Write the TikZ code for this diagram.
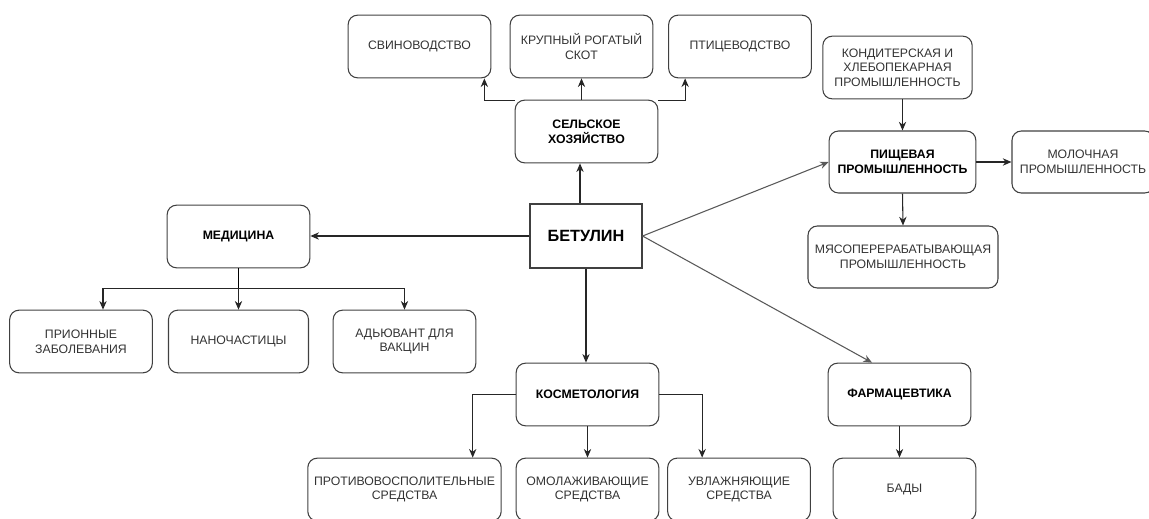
\documentclass[tikz,border=0pt]{standalone}
\usepackage{fontspec}
\setmainfont{Liberation Sans}
\usetikzlibrary{arrows.meta,positioning}
\tikzset{
    box/.style={draw=black!75, line width=0.8pt, rounded corners=7pt,
        minimum width=107pt, minimum height=47pt, inner sep=1pt,
        align=center, text=black!80, font=\fontsize{9.2}{11}\selectfont},
    mainbox/.style={box, text=black, font=\fontsize{9.2}{11}\selectfont\bfseries},
    rootbox/.style={box, rounded corners=0pt, text=black,
        minimum width=84pt, minimum height=48pt,
        font=\fontsize{12.2}{14}\selectfont\bfseries},
    arr/.style={-{Stealth[length=6.5pt,width=5.5pt]}, draw=black!85, line width=0.8pt},
    grayarr/.style={arr, draw=black!65},
}

\begin{document}
\begin{tikzpicture}[x=0.75pt,y=-0.75pt]
    \useasboundingbox (0,0) rectangle (1149,518);
    % centre
    \node[rootbox] (bet) at (586,236) {БЕТУЛИН};
    % agriculture
    \node[mainbox] (sx) at (586.5,131.5) {СЕЛЬСКОЕ\\ХОЗЯЙСТВО};
    \node[box] (svin) at (419.5,46.5) {СВИНОВОДСТВО};
    \node[box] (krs) at (581.5,46.5) {КРУПНЫЙ РОГАТЫЙ\\СКОТ};
    \node[box] (ptic) at (740,46.5) {ПТИЦЕВОДСТВО};
    % medicine
    \node[mainbox] (med) at (238.5,236.5) {МЕДИЦИНА};
    \node[box] (prion) at (81,341.5) {ПРИОННЫЕ\\ЗАБОЛЕВАНИЯ};
    \node[box, minimum width=105pt] (nano) at (238.5,341.5) {НАНОЧАСТИЦЫ};
    \node[box] (adj) at (404.5,341.5) {АДЬЮВАНТ ДЛЯ\\ВАКЦИН};
    % cosmetology
    \node[mainbox] (kosm) at (587.5,394.5) {КОСМЕТОЛОГИЯ};
    \node[box, minimum width=145pt] (protiv) at (404.5,489.5) {ПРОТИВОВОСПОЛИТЕЛЬНЫЕ\\СРЕДСТВА};
    \node[box] (omol) at (587.5,489.5) {ОМОЛАЖИВАЮЩИЕ\\СРЕДСТВА};
    \node[box] (uvl) at (739,489.5) {УВЛАЖНЯЮЩИЕ\\СРЕДСТВА};
    % food industry
    \node[box, minimum width=112pt] (kond) at (897.5,67.5) {КОНДИТЕРСКАЯ И\\ХЛЕБОПЕКАРНАЯ\\ПРОМЫШЛЕННОСТЬ};
    \node[mainbox, minimum width=110pt, minimum height=46.5pt] (pish) at (902.5,162) {ПИЩЕВАЯ\\ПРОМЫШЛЕННОСТЬ};
    \node[box, minimum width=106.5pt, minimum height=46.5pt] (mol) at (1083,162) {МОЛОЧНАЯ\\ПРОМЫШЛЕННОСТЬ};
    \node[box, minimum width=142.5pt, minimum height=46.5pt] (myaso) at (903,257) {МЯСОПЕРЕРАБАТЫВАЮЩАЯ\\ПРОМЫШЛЕННОСТЬ};
    % pharmacy
    \node[mainbox] (farm) at (899.5,394.5) {ФАРМАЦЕВТИКА};
    \node[box] (bady) at (904.5,489.5) {БАДЫ};

    \draw[arr] ([xshift=-4.5pt]bet.north) -- ([xshift=-4.5pt]bet.north |- sx.south);
    \draw[arr] (sx.north -| krs) -- (krs.south);
    \draw[arr] ([yshift=-0.75pt]sx.north west) -| ([xshift=-5.25pt]svin.south east);
    \draw[arr] ([yshift=-0.75pt]sx.north east) -| ([xshift=12.75pt]ptic.south west);

    \draw[arr] (bet.west) -- (bet.west -| med.east);
    \draw (med.south) -- ++(0,20) coordinate (medbus);
    \draw[arr] (medbus) -| ([xshift=16.5pt]prion.north);
    \draw[arr] (medbus) -| (adj.north);
    \draw[arr] (medbus) -- (nano.north);

    \draw[arr] (bet.south) -- (bet.south |- kosm.north);
    \draw[arr] (kosm.west) -| ([xshift=-21.75pt]protiv.north east);
    \draw[arr] (kosm.south) -- (omol.north);
    \draw[arr] (kosm.east) -| ([xshift=26.25pt]uvl.north west);

    \draw[grayarr] (bet.east) -- (pish.west);
    \draw[grayarr] (bet.east) -- ([xshift=-20.6pt]farm.north);
    \draw[arr] (kond.south -| pish) -- (pish.north);
    \draw[arr] (pish.east) -- (mol.west);
    \draw[arr] (pish.south) -- (myaso.north);
    \draw[arr] (farm.south) -- (farm.south |- bady.north);
\end{tikzpicture}
\end{document}
